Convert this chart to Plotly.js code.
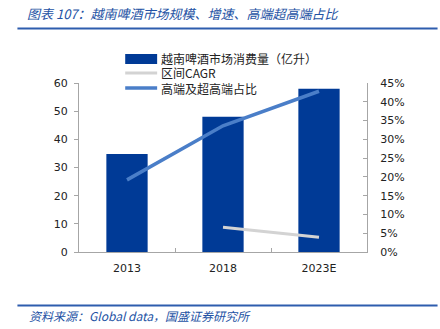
<!DOCTYPE html>
<html>
<head>
<meta charset="utf-8">
<script src="https://cdn.plot.ly/plotly-3.0.1.min.js"></script>
<style>html,body{margin:0;padding:0;background:#fff;}#chart{width:440px;height:329px;}</style>
</head>
<body>
<div id="chart"></div>
<script>
// ---- data ----
var years = ['2013', '2018', '2023E'];
var consumption = [34.8, 48, 58];          // 越南啤酒市场消费量（亿升）
var cagr = [null, 0.066, 0.039];           // 区间CAGR
var premiumShare = [0.192, 0.336, 0.428];  // 高端及超高端占比
var seriesNames = ['越南啤酒市场消费量（亿升）', '区间CAGR', '高端及超高端占比'];
var leftTicks = [0, 10, 20, 30, 40, 50, 60];
var rightTicks = [0, 0.05, 0.10, 0.15, 0.20, 0.25, 0.30, 0.35, 0.40, 0.45];
var titleText = '图表 107：越南啤酒市场规模、增速、高端超高端占比';
var sourceText = '资料来源：Global data，国盛证券研究所';

// ---- styles ----
var W = 440, H = 329;
var L = 78.7, R = 367.3, T = 83.3, B = 251.7;
function px(x) { return (x - L) / (R - L); }
function py(y) { return (B - y) / (B - T); }
var barColor = '#003A96';
var grayColor = '#D3D3D3';
var blueColor = '#4A7EC8';
var textBlue = '#2452A4';
var axisGray = '#A6A6A6';
var tickFont = {family: 'DejaVu Sans, Verdana, sans-serif', size: 11, color: '#222'};
var cjk = 'Noto Sans CJK SC, sans-serif';

var traces = [
  {type: 'bar', x: years, y: consumption, name: seriesNames[0], marker: {color: barColor}, width: 0.43, showlegend: false, hoverinfo: 'none'},
  {type: 'scatter', mode: 'lines', x: years, y: cagr, yaxis: 'y2', name: seriesNames[1], line: {color: grayColor, width: 3}, showlegend: false, connectgaps: false, hoverinfo: 'none'},
  {type: 'scatter', mode: 'lines', x: years, y: premiumShare, yaxis: 'y2', name: seriesNames[2], line: {color: blueColor, width: 3.5}, showlegend: false, hoverinfo: 'none'}
];

var legendRows = [59.3, 73.3, 88.3];
var shapes = [
  // title rule and source rule
  {type: 'line', xref: 'paper', yref: 'paper', x0: px(17), x1: px(438), y0: py(29), y1: py(29), line: {color: '#2E5DAE', width: 2}},
  {type: 'line', xref: 'paper', yref: 'paper', x0: px(17), x1: px(438), y0: py(305), y1: py(305), line: {color: '#2E5DAE', width: 2}},
  // legend swatches
  {type: 'rect', xref: 'paper', yref: 'paper', x0: px(125), x1: px(157), y0: py(legendRows[0] - 5), y1: py(legendRows[0] + 5), fillcolor: barColor, line: {width: 0}},
  {type: 'line', xref: 'paper', yref: 'paper', x0: px(125), x1: px(157), y0: py(legendRows[1]), y1: py(legendRows[1]), line: {color: grayColor, width: 3}},
  {type: 'line', xref: 'paper', yref: 'paper', x0: px(125), x1: px(157), y0: py(legendRows[2]), y1: py(legendRows[2]), line: {color: blueColor, width: 3.5}}
];

var annotations = [
  {xref: 'paper', yref: 'paper', x: px(27), y: py(315), xanchor: 'left', yanchor: 'middle', showarrow: false, text: '<i>' + sourceText + '</i>', font: {family: cjk, size: 12, color: textBlue}}
];
for (var i = 0; i < 3; i++) {
  annotations.push({xref: 'paper', yref: 'paper', x: px(160), y: py(legendRows[i]), xanchor: 'left', yanchor: 'middle', height: 13, borderpad: 0, showarrow: false, text: seriesNames[i], font: {family: cjk, size: 12, color: '#222'}});
}

var layout = {
  width: W, height: H,
  margin: {l: L, r: W - R, t: T, b: H - B, pad: 0},
  paper_bgcolor: '#fff', plot_bgcolor: '#fff',
  showlegend: false,
  title: {text: '<i>' + titleText + '</i>', x: 27 / W, xanchor: 'left', xref: 'container', y: 1 - 14 / H, yanchor: 'middle', yref: 'container', font: {family: cjk, size: 13, color: textBlue}},
  xaxis: {type: 'category', tickson: 'boundaries', ticks: 'inside', ticklen: 4, tickcolor: axisGray, showline: true, linecolor: axisGray, linewidth: 1, showgrid: false, zeroline: false, tickfont: tickFont, ticklabelstandoff: 6, fixedrange: true},
  yaxis: {range: [0, 60], tickvals: leftTicks, ticks: 'outside', ticklen: 4, tickcolor: axisGray, showline: true, linecolor: axisGray, showgrid: false, zeroline: false, tickfont: tickFont, ticklabelstandoff: 4, fixedrange: true},
  yaxis2: {overlaying: 'y', side: 'right', range: [0, 0.45], tickvals: rightTicks, tickformat: '.0%', ticks: 'inside', ticklen: 4, tickcolor: axisGray, showline: true, linecolor: axisGray, showgrid: false, zeroline: false, tickfont: tickFont, ticklabelstandoff: 10, fixedrange: true},
  shapes: shapes,
  annotations: annotations
};

Plotly.newPlot('chart', traces, layout, {displayModeBar: false, staticPlot: true});
</script>
</body>
</html>
